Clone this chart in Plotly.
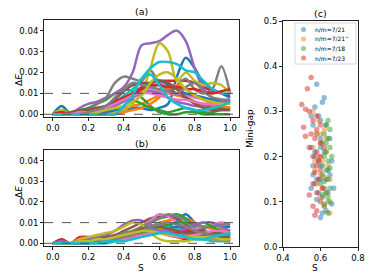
import plotly.graph_objects as go

W, H = 374, 280
S = [0.0, 0.05, 0.1, 0.15, 0.2, 0.25, 0.3, 0.35, 0.4, 0.45, 0.5,
     0.55, 0.6, 0.65, 0.7, 0.75, 0.8, 0.85, 0.9, 0.95, 1.0]

# Panel (a) curves, Delta E in units of 1e-3
a_01 = [0, 4, 0, 0, 0, 0, 0, 1, 2, 3, 3, 2, 3, 5, 18, 27, 22, 15, 12, 10, 8]
a_02 = [0, 0, 0, 1, 1, 1, 1, 2, 3, 4, 5, 7, 9, 10, 9, 8, 6, 5, 4, 4, 3]
a_03 = [0, 2, 1, 2, 3, 5, 7, 10, 12, 11, 8, 4, 1, 0, 0, 1, 1, 0, 0, 0, 0]
a_04 = [0, 0, 0, 1, 1, 2, 3, 5, 7, 10, 13, 15, 16, 16, 16, 16, 15, 13, 11, 10, 9]
a_05 = [0, 0, 0, 3, 5, 6, 8, 10, 13, 20, 33, 34, 35, 38, 40, 35, 22, 12, 8, 7, 7]
a_06 = [0, 0, 0, 0, 1, 2, 3, 5, 8, 10, 12, 13, 14, 12, 10, 8, 6, 4, 3, 3, 3]
a_07 = [0, 1, 1, 1, 2, 3, 4, 6, 8, 10, 11, 12, 11, 10, 10, 9, 8, 7, 6, 6, 6]
a_08 = [0, 0, 0, 1, 2, 5, 8, 15, 18, 17, 16, 21, 15, 12, 14, 17, 12, 10, 12, 23, 10]
a_09 = [0, 2, 0, 0, 0, 0, 0, 1, 2, 5, 10, 22, 34, 30, 16, 20, 16, 14, 15, 14, 10]
a_10 = [0, 0, 0, 0, 0, 1, 2, 5, 9, 12, 17, 22, 25, 25, 24, 21, 20, 16, 12, 10, 10]
a_11 = [0, 1, 0, 0, 0, 0, 1, 2, 4, 8, 12, 15, 16, 14, 12, 10, 9, 8, 7, 6, 6]
a_12 = [0, 0, 0, 0, 0, 0, 0, 0, 1, 2, 3, 5, 8, 12, 14, 12, 9, 7, 5, 4, 3]
a_13 = [0, 0, 0, 0, 1, 2, 4, 6, 8, 7, 5, 3, 2, 1, 2, 3, 2, 1, 1, 2, 2]
a_14 = [0, 1, 0, 1, 2, 3, 4, 6, 8, 10, 12, 14, 14, 13, 13, 12, 12, 11, 10, 11, 12]
a_15 = [0, 0, 0, 0, 1, 2, 3, 4, 6, 8, 10, 11, 10, 8, 6, 5, 4, 4, 5, 6, 7]
a_16 = [0, 0, 1, 2, 2, 3, 4, 7, 11, 14, 15, 15, 16, 15, 12, 8, 5, 3, 2, 2, 2]
a_17 = [0, 0, 0, 1, 1, 2, 3, 5, 7, 9, 10, 10, 9, 8, 7, 7, 6, 5, 5, 5, 5]
a_18 = [0, 0, 0, 0, 1, 2, 4, 8, 12, 15, 14, 13, 12, 11, 10, 13, 15, 11, 8, 7, 6]
a_19 = [0, 0, 0, 0, 0, 1, 2, 3, 4, 6, 9, 15, 19, 20, 17, 12, 9, 7, 6, 5, 5]
a_20 = [0, 0, 0, 0, 0, 0, 0, 0, 4, 9, 17, 19, 14, 8, 5, 3, 2, 2, 3, 4, 6]

# Panel (b) curves, Delta E in units of 1e-3
b_01 = [0, 0, 0, 0, 0, 1, 1, 2, 3, 4, 5, 6, 7, 8, 11, 14, 10, 7, 9, 8, 8]
b_02 = [0, 0, 0, 1, 1, 1, 2, 3, 4, 5, 6, 8, 10, 11, 12, 12, 10, 8, 7, 7, 6]
b_03 = [0, 0, 0, 0, 1, 1, 2, 3, 4, 5, 7, 10, 12, 13, 14, 12, 8, 6, 5, 5, 4]
b_04 = [0, 2, 0, 3, 3, 2, 2, 3, 4, 5, 6, 7, 6, 4, 3, 2, 3, 2, 3, 2, 1]
b_05 = [0, 1, 0, 1, 2, 3, 4, 6, 9, 11, 11, 9, 7, 6, 5, 4, 4, 4, 5, 5, 5]
b_06 = [0, 0, 0, 1, 1, 2, 3, 4, 6, 8, 10, 12, 13, 13, 12, 9, 7, 6, 5, 5, 5]
b_07 = [0, 0, 0, 0, 1, 1, 2, 3, 4, 6, 8, 11, 14, 13, 10, 8, 7, 8, 9, 10, 9]
b_08 = [0, 0, 0, 1, 1, 2, 2, 3, 5, 6, 8, 10, 12, 14, 13, 11, 9, 8, 8, 9, 9]
b_09 = [0, 0, 0, 2, 3, 4, 5, 6, 8, 10, 9, 5, 2, 1, 1, 1, 2, 2, 2, 3, 4]
b_10 = [0, 0, 0, 0, 0, 0, 0, 1, 2, 3, 5, 7, 8, 8, 7, 5, 3, 2, 1, 1, 1]
b_11 = [0, 0, 0, 0, 0, 1, 1, 2, 2, 3, 4, 5, 6, 7, 8, 7, 6, 5, 4, 3, 3]
b_12 = [0, 0, 0, 0, 1, 1, 2, 2, 3, 4, 5, 6, 7, 7, 6, 5, 4, 3, 2, 2, 2]
b_13 = [0, 0, 0, 0, 0, 1, 1, 2, 3, 4, 5, 6, 8, 9, 10, 10, 9, 10, 8, 6, 5]
b_14 = [0, 0, 0, 1, 1, 1, 2, 2, 3, 3, 4, 4, 5, 5, 5, 6, 6, 5, 4, 3, 2]
b_15 = [0, 0, 0, 0, 1, 1, 2, 3, 4, 5, 6, 7, 6, 6, 6, 7, 9, 10, 10, 8, 6]
b_16 = [0, 0, 0, 0, 0, 1, 1, 2, 3, 5, 7, 8, 8, 7, 6, 5, 5, 4, 4, 3, 3]
b_17 = [0, 0, 0, 0, 0, 1, 1, 2, 2, 3, 4, 5, 5, 4, 3, 3, 4, 5, 6, 6, 5]
b_18 = [0, 0, 0, 0, 1, 1, 2, 2, 3, 4, 6, 8, 9, 10, 9, 8, 6, 5, 4, 4, 4]
b_19 = [0, 0, 0, 1, 1, 2, 2, 3, 4, 5, 6, 6, 5, 4, 4, 3, 3, 3, 3, 2, 2]
b_20 = [0, 0, 0, 0, 0, 0, 1, 1, 1, 2, 3, 4, 5, 5, 4, 3, 2, 2, 3, 4, 5]

curves_a = [a_01, a_02, a_03, a_04, a_05, a_06, a_07, a_08, a_09, a_10,
            a_11, a_12, a_13, a_14, a_15, a_16, a_17, a_18, a_19, a_20]
curves_b = [b_01, b_02, b_03, b_04, b_05, b_06, b_07, b_08, b_09, b_10,
            b_11, b_12, b_13, b_14, b_15, b_16, b_17, b_18, b_19, b_20]

# Panel (c) scatter
c_labels = ["n/m=7/21", "n/m=7/21''", "n/m=7/18", "n/m=7/23"]
c1_s = [0.58, 0.62, 0.61, 0.57, 0.55, 0.59, 0.60, 0.56, 0.63, 0.58, 0.60, 0.65, 0.55, 0.57,
        0.62, 0.66, 0.59, 0.61, 0.64, 0.56, 0.58, 0.60, 0.63, 0.57, 0.55, 0.62, 0.67, 0.59,
        0.64, 0.61, 0.58, 0.66, 0.62, 0.63, 0.61, 0.60, 0.57, 0.60, 0.65, 0.56]
c1_g = [0.36, 0.33, 0.32, 0.31, 0.29, 0.29, 0.28, 0.27, 0.27, 0.25, 0.24, 0.24, 0.22, 0.21,
        0.21, 0.19, 0.19, 0.18, 0.17, 0.16, 0.15, 0.15, 0.15, 0.14, 0.13, 0.13, 0.13, 0.12,
        0.12, 0.11, 0.105, 0.095, 0.09, 0.08, 0.075, 0.065, 0.20, 0.22, 0.16, 0.18]
c2_s = [0.56, 0.59, 0.62, 0.58, 0.60, 0.56, 0.63, 0.59, 0.61, 0.64, 0.57, 0.60, 0.62, 0.65,
        0.58, 0.61, 0.63, 0.60, 0.64, 0.62, 0.65, 0.57, 0.60, 0.63]
c2_g = [0.30, 0.28, 0.26, 0.25, 0.23, 0.22, 0.21, 0.20, 0.19, 0.18, 0.17, 0.16, 0.155, 0.15,
        0.14, 0.13, 0.12, 0.11, 0.10, 0.09, 0.075, 0.19, 0.25, 0.24]
c3_s = [0.64, 0.63, 0.65, 0.62, 0.64, 0.61, 0.65, 0.63, 0.62, 0.64, 0.60, 0.65, 0.63, 0.61,
        0.64, 0.62, 0.60, 0.65, 0.63, 0.61, 0.64, 0.65, 0.62, 0.64, 0.63, 0.66]
c3_g = [0.28, 0.27, 0.26, 0.25, 0.24, 0.23, 0.22, 0.21, 0.20, 0.19, 0.18, 0.175, 0.17, 0.16,
        0.15, 0.145, 0.14, 0.13, 0.12, 0.115, 0.11, 0.10, 0.095, 0.075, 0.23, 0.20]
c4_s = [0.55, 0.53, 0.50, 0.52, 0.54, 0.58, 0.56, 0.60, 0.51, 0.58, 0.55, 0.52, 0.57, 0.60,
        0.54, 0.58, 0.56, 0.59, 0.58, 0.60, 0.57, 0.59, 0.56, 0.61, 0.58, 0.54, 0.60, 0.56,
        0.58, 0.57, 0.62, 0.60]
c4_g = [0.375, 0.35, 0.315, 0.305, 0.30, 0.29, 0.28, 0.27, 0.265, 0.26, 0.25, 0.245, 0.24, 0.23,
        0.22, 0.21, 0.20, 0.19, 0.18, 0.17, 0.165, 0.15, 0.14, 0.13, 0.12, 0.115, 0.10, 0.09,
        0.08, 0.07, 0.22, 0.20]
c_s = [c1_s, c2_s, c3_s, c4_s]
c_g = [c1_g, c2_g, c3_g, c4_g]

TAB10 = ["#1f77b4", "#ff7f0e", "#2ca02c", "#d62728", "#9467bd",
         "#8c564b", "#e377c2", "#7f7f7f", "#bcbd22", "#17becf"]

fig = go.Figure()
for i, c in enumerate(curves_a):
    fig.add_trace(go.Scatter(x=S, y=[v * 1e-3 for v in c], mode="lines",
                             line=dict(color=TAB10[i % 10], width=2.5, shape="spline", smoothing=0.9),
                             xaxis="x", yaxis="y", showlegend=False))
for i, c in enumerate(curves_b):
    fig.add_trace(go.Scatter(x=S, y=[v * 1e-3 for v in c], mode="lines",
                             line=dict(color=TAB10[i % 10], width=2.5, shape="spline", smoothing=0.9),
                             xaxis="x2", yaxis="y2", showlegend=False))
for i in range(4):
    fig.add_trace(go.Scatter(x=c_s[i], y=c_g[i], mode="markers", name=c_labels[i],
                             marker=dict(color=TAB10[i], size=5.5, opacity=0.5, line=dict(width=0)),
                             xaxis="x3", yaxis="y3", showlegend=False))

def px_x(p):
    return p / W

def px_y(p):
    return 1 - p / H

FONT = dict(family="DejaVu Sans", size=8.5, color="black")
axis_common = dict(showline=True, mirror=True, linecolor="#222", linewidth=1,
                   ticks="outside", ticklen=3, tickcolor="#222", showgrid=False,
                   zeroline=False, tickfont=FONT, automargin=False)

dom_ax = [px_x(44), px_x(239)]
dom_cx = [px_x(283), px_x(358)]
dom_ay = [px_y(117), px_y(20)]
dom_by = [px_y(246), px_y(150)]
dom_cy = [px_y(247), px_y(21)]

yr = [-0.0013, 0.0451]
fig.update_layout(
    width=W, height=H, margin=dict(l=0, r=0, t=0, b=0, autoexpand=False),
    paper_bgcolor="white", plot_bgcolor="white", font=FONT,
    xaxis=dict(domain=dom_ax, range=[-0.05, 1.05], tickvals=[0, 0.2, 0.4, 0.6, 0.8, 1.0],
               tickformat=".1f", anchor="y", **axis_common),
    yaxis=dict(domain=dom_ay, range=yr, tickvals=[0, 0.01, 0.02, 0.03, 0.04],
               tickformat=".2f", anchor="x", **axis_common),
    xaxis2=dict(domain=dom_ax, range=[-0.05, 1.05], tickvals=[0, 0.2, 0.4, 0.6, 0.8, 1.0],
                tickformat=".1f", anchor="y2", **axis_common),
    yaxis2=dict(domain=dom_by, range=yr, tickvals=[0, 0.01, 0.02, 0.03, 0.04],
                tickformat=".2f", anchor="x2", **axis_common),
    xaxis3=dict(domain=dom_cx, range=[0.4, 0.8], tickvals=[0.4, 0.6, 0.8],
                tickformat=".1f", anchor="y3", **axis_common),
    yaxis3=dict(domain=dom_cy, range=[0, 0.5], tickvals=[0, 0.1, 0.2, 0.3, 0.4, 0.5],
                tickformat=".1f", anchor="x3", **axis_common),
)

shapes = []
for yref, xref in [("y", "x"), ("y2", "x2")]:
    for yv in [0.01, 0.0]:
        shapes.append(dict(type="line", xref=xref + " domain", x0=0, x1=1, yref=yref, y0=yv, y1=yv,
                           line=dict(color="#555", width=1, dash="dash"), layer="above"))

# legend box for panel (c)
shapes.append(dict(type="rect", xref="paper", yref="paper", x0=px_x(295), x1=px_x(356),
                   y0=px_y(64), y1=px_y(23), line=dict(color="#cccccc", width=0.8),
                   fillcolor="rgba(255,255,255,0.8)", layer="above"))
annotations = []
rows = [29.5, 39.0, 48.5, 58.0]
for i, r in enumerate(rows):
    shapes.append(dict(type="circle", xref="paper", yref="paper",
                       x0=px_x(301), x1=px_x(306), y0=px_y(r + 2.5), y1=px_y(r - 2.5),
                       fillcolor=TAB10[i], opacity=0.5, line=dict(width=0), layer="above"))
    annotations.append(dict(text=c_labels[i], xref="paper", yref="paper", x=px_x(313), y=px_y(r),
                            xanchor="left", yanchor="middle", showarrow=False,
                            font=dict(family="DejaVu Sans", size=6, color="black")))

title_font = dict(family="DejaVu Sans", size=9.5, color="black")
for txt, xx, yy in [("(a)", (44 + 239) / 2, 12), ("(b)", (44 + 239) / 2, 143), ("(c)", (283 + 358) / 2, 13)]:
    annotations.append(dict(text=txt, xref="paper", yref="paper", x=px_x(xx), y=px_y(yy),
                            xanchor="center", yanchor="middle", showarrow=False, font=title_font))
lab_font = dict(family="DejaVu Sans", size=9, color="black")
annotations.append(dict(text="Δ<i>E</i>", xref="paper", yref="paper", x=px_x(12), y=px_y(72),
                        textangle=-90, showarrow=False, font=lab_font))
annotations.append(dict(text="Δ<i>E</i>", xref="paper", yref="paper", x=px_x(12), y=px_y(200),
                        textangle=-90, showarrow=False, font=lab_font))
annotations.append(dict(text="Mini-gap", xref="paper", yref="paper", x=px_x(257), y=px_y(129),
                        textangle=-90, showarrow=False, font=lab_font))
annotations.append(dict(text="S", xref="paper", yref="paper", x=px_x(141), y=px_y(268),
                        yanchor="middle", showarrow=False, font=lab_font))
annotations.append(dict(text="S", xref="paper", yref="paper", x=px_x(320), y=px_y(268),
                        yanchor="middle", showarrow=False, font=lab_font))

fig.update_layout(shapes=shapes, annotations=annotations)
fig.write_html("out.html", config={"displayModeBar": False},
               post_script="document.body.style.margin='0px';document.body.style.overflow='hidden';")
